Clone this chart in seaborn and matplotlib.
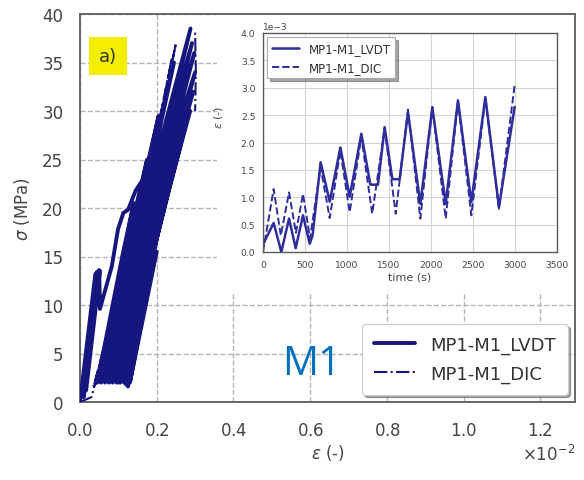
import numpy as np
import matplotlib
matplotlib.use("Agg")
import matplotlib.pyplot as plt
import seaborn as sns
from matplotlib.patches import Rectangle

# ---------------- data ----------------
# main plot: strain in units of 1e-2 (-), stress in MPa
lvdt_strain = [0.000, 0.040, 0.048, 0.010, 0.004, 0.044, 0.052, 0.016, 0.008, 0.050, 0.052,
               0.083, 0.099, 0.113, 0.125, 0.145, 0.160, 0.168,
               0.045, 0.110, 0.140,
               0.050, 0.115, 0.175,
               0.055, 0.120, 0.205,
               0.060, 0.125, 0.245,
               0.065, 0.130, 0.288,
               0.070, 0.135, 0.292,
               0.075, 0.140, 0.298,
               0.080, 0.145, 0.300,
               0.085, 0.150, 0.295,
               0.090, 0.155, 0.287,
               0.095, 0.160, 0.275,
               0.100, 0.165, 0.262,
               0.105, 0.170, 0.250,
               0.110, 0.175, 0.238,
               0.115, 0.182, 0.225,
               0.120, 0.188, 0.214,
               0.125, 0.125, 0.200,
               0.130, 0.168, 0.195,
               0.100]
lvdt_stress = [0.0, 13.2, 13.3, 0.5, 0.8, 13.4, 13.5, 1.2, 1.5, 13.6, 9.6,
               14.0, 17.8, 19.5, 19.8, 21.8, 22.7, 21.5,
               2.0, 15.0, 20.5,
               2.2, 15.0, 25.0,
               2.0, 15.0, 29.5,
               2.4, 15.0, 35.0,
               2.0, 15.0, 38.5,
               2.3, 15.0, 37.0,
               2.0, 15.0, 36.0,
               2.5, 15.0, 34.0,
               2.0, 15.0, 32.0,
               2.2, 15.0, 30.0,
               2.0, 15.0, 28.5,
               2.4, 15.0, 26.5,
               2.0, 15.0, 25.0,
               2.2, 15.0, 23.5,
               2.0, 15.0, 22.0,
               1.8, 15.0, 20.5,
               1.6, 3.5, 15.5,
               2.0, 10.0, 15.0,
               2.0]
dic_strain = [0.000, 0.030, 0.115, 0.035, 0.110, 0.040, 0.108, 0.050, 0.165, 0.060, 0.200, 0.065, 0.240,
              0.070, 0.250, 0.080, 0.285, 0.300, 0.302, 0.300]
dic_stress = [0.0, 0.5, 13.3, 1.5, 13.0, 1.8, 13.2, 2.0, 22.5, 2.0, 28.0, 2.0, 35.5,
              2.0, 37.0, 2.0, 38.0, 38.0, 34.0, 30.0]

# inset: time (s) vs strain (units of 1e-3)
lvdt_time = [0, 20, 127, 218, 310, 389, 476, 556, 590, 686, 794, 921, 1032, 1171, 1278, 1369, 1448,
             1540, 1627, 1726, 1873, 2016, 2175, 2321, 2480, 2647, 2809, 2996]
lvdt_eps = [0.12, 0.20, 0.53, 0.00, 0.61, 0.07, 0.67, 0.15, 0.30, 1.64, 0.92, 1.91, 1.01, 2.16, 1.23, 1.23, 2.28,
            1.33, 1.33, 2.55, 0.88, 2.64, 0.88, 2.77, 0.91, 2.83, 0.82, 2.65]
dic_time = [0, 127, 212, 310, 392, 476, 560, 686, 794, 921, 1032, 1171, 1300, 1448, 1580, 1726, 1873,
            2016, 2175, 2321, 2480, 2647, 2809, 2996]
dic_eps = [0.00, 1.15, 0.30, 1.09, 0.35, 1.06, 0.25, 1.55, 0.62, 1.85, 0.73, 2.10, 0.70, 2.25, 0.70, 2.60, 0.61,
           2.65, 0.61, 2.75, 0.67, 2.80, 0.79, 3.05]

x_ticks = [0.0, 0.2, 0.4, 0.6, 0.8, 1.0, 1.2]
y_ticks = [0, 5, 10, 15, 20, 25, 30, 35, 40]
inset_xticks = [0, 500, 1000, 1500, 2000, 2500, 3000, 3500]
inset_yticks = [0.0, 0.5, 1.0, 1.5, 2.0, 2.5, 3.0, 3.5, 4.0]

labels = ["MP1-M1_LVDT", "MP1-M1_DIC"]

# ---------------- style ----------------
sns.set_style("white")
plt.rcParams['font.family'] = ['DejaVu Sans']
plt.rcParams['mathtext.fontset'] = 'dejavusans'

navy = '#16167f'
inset_col = '#2d2d9c'
tick_col = '#444444'
spine_col = '#5c5c5c'

W, H = 584, 481
fig = plt.figure(figsize=(W / 100, H / 100), dpi=100)

# main axes
ax = fig.add_axes([80 / W, 1 - 403 / H, 495 / W, 388 / H])
sns.lineplot(x=np.array(lvdt_strain) * 1e-2, y=lvdt_stress, sort=False, estimator=None,
             ax=ax, color=navy, lw=2.8, label=labels[0], zorder=3)
sns.lineplot(x=np.array(dic_strain) * 1e-2, y=dic_stress, sort=False, estimator=None,
             ax=ax, color=navy, lw=1.5, linestyle='-.', label=labels[1], zorder=4)

ax.set_xlim(0, 1.29e-2)
ax.set_ylim(0, 40)
ax.set_xticks(np.array(x_ticks) * 1e-2)
ax.set_yticks(y_ticks)
ax.ticklabel_format(axis='x', style='sci', scilimits=(-2, -2), useMathText=True)
ax.xaxis.get_offset_text().set_fontsize(12)
ax.xaxis.get_offset_text().set_color(tick_col)
ax.tick_params(axis='both', direction='inout', length=8, width=1.1, color=spine_col,
               labelsize=12, labelcolor=tick_col)
ax.tick_params(axis='x', pad=10)
ax.tick_params(axis='y', pad=8)
ax.grid(True, ls='--', color='#b5b5b5', lw=1.0)
ax.set_axisbelow(True)
for s in ax.spines.values():
    s.set_color(spine_col)
    s.set_linewidth(1.3)
ax.set_xlabel(r'$\varepsilon$ (-)', fontsize=12, color=tick_col, labelpad=2)
ax.set_ylabel(r'$\sigma$ (MPa)', fontsize=12, color=tick_col, labelpad=7)

# white background behind the inset figure
ax.add_patch(Rectangle((0.277, 0.2835), 0.723, 0.7165, transform=ax.transAxes,
                       facecolor='white', edgecolor='none', zorder=1))

leg = ax.legend(loc='lower right', fontsize=13, shadow=True, fancybox=True, framealpha=1,
                edgecolor='#cccccc', handlelength=2.3, handletextpad=0.85, borderaxespad=0.4,
                borderpad=0.65, labelspacing=0.6)
leg.get_frame().set_linewidth(0.8)
for t in leg.get_texts():
    t.set_color('#333333')

ax.text(0.0566, 0.892, 'a)', transform=ax.transAxes, fontsize=13, color='#333333',
        ha='center', va='center',
        bbox=dict(boxstyle='square,pad=0.55', facecolor='#f4ef00', edgecolor='none'), zorder=5)

fig.text(282 / W, 1 - 375 / H, 'M1', fontsize=29, color='#0070C0', family=['Open Sans', 'DejaVu Sans'],
         ha='left', va='baseline')

# inset axes
ins = fig.add_axes([263 / W, 1 - 253 / H, 294 / W, 219 / H])
ins.set_facecolor('white')
sns.lineplot(x=lvdt_time, y=np.array(lvdt_eps) * 1e-3, sort=False, estimator=None, ax=ins,
             color=inset_col, lw=1.8, label=labels[0])
sns.lineplot(x=dic_time, y=np.array(dic_eps) * 1e-3, sort=False, estimator=None, ax=ins,
             color=inset_col, lw=1.4, linestyle='--', label=labels[1])
ins.set_xlim(0, 3500)
ins.set_ylim(0, 4e-3)
ins.set_xticks(inset_xticks)
ins.set_yticks(np.array(inset_yticks) * 1e-3)
ins.ticklabel_format(axis='y', style='sci', scilimits=(-3, -3))
ins.yaxis.get_offset_text().set_fontsize(6.5)
ins.yaxis.get_offset_text().set_color(tick_col)
ins.tick_params(axis='both', direction='out', length=3, width=0.8, color=spine_col,
                labelsize=6.6, labelcolor=tick_col, pad=2.5)
ins.grid(True, ls='-', color='#d4d4d4', lw=0.8)
ins.set_axisbelow(True)
for s in ins.spines.values():
    s.set_color(spine_col)
    s.set_linewidth(1.0)
ins.set_xlabel('time (s)', fontsize=8, color=tick_col, labelpad=2)
ins.set_ylabel(r'$\varepsilon$ (-)', fontsize=8, color=tick_col)
ins.yaxis.set_label_coords(-0.128, 0.62)
ileg = ins.legend(loc='upper left', fontsize=8.5, shadow=True, fancybox=False, framealpha=1,
                  edgecolor='#aaaaaa', handlelength=2.3, borderaxespad=0.35)
ileg.get_frame().set_linewidth(0.8)
for t in ileg.get_texts():
    t.set_color('#333333')

fig.savefig('out.png', dpi=100)
